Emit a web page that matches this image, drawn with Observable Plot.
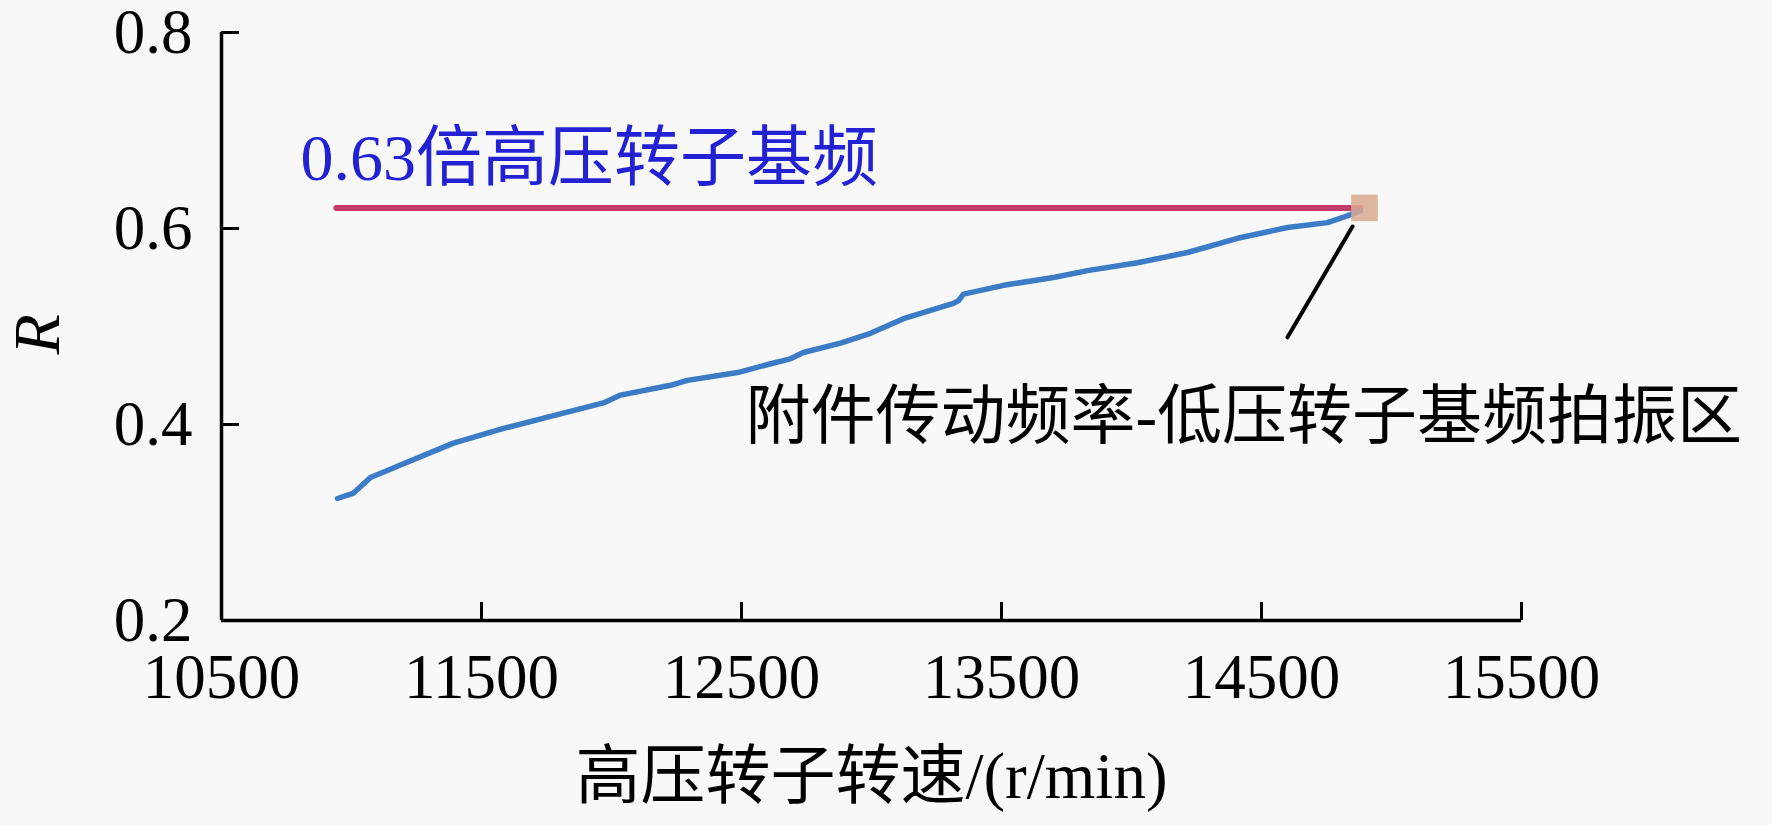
<!DOCTYPE html>
<html>
<head>
<meta charset="utf-8">
<script src="https://cdn.jsdelivr.net/npm/d3@7"></script>
<script src="https://cdn.jsdelivr.net/npm/@observablehq/plot@0.6"></script>
<style>
  html, body { margin: 0; padding: 0; background: #f8f8f8; }
  #chart svg { display: block; }
</style>
</head>
<body>
<div id="chart"></div>
<script>
// Curve: high-pressure rotor speed (r/min) vs R
const speed = [10946, 11008, 11073, 11200, 11392, 11585, 11777, 11969, 12035, 12227, 12292, 12485, 12612, 12688, 12738, 12881, 12996, 13123, 13315, 13335, 13354, 13508, 13700, 13831, 14023, 14215, 14408, 14600, 14754, 14831, 14881];
const ratio = [0.3245, 0.330, 0.346, 0.360, 0.381, 0.396, 0.409, 0.422, 0.430, 0.440, 0.445, 0.453, 0.462, 0.467, 0.4735, 0.483, 0.493, 0.508, 0.5235, 0.5265, 0.533, 0.542, 0.550, 0.557, 0.565, 0.5755, 0.590, 0.601, 0.606, 0.613, 0.618];

// Reference line (0.63x HP rotor fundamental)
const refLineX = [10942, 14880];
const refLineY = 0.621;

// Beat zone marker
const markerX = [14896];
const markerY = [0.621];

// Leader line
const leaderX = [14850, 14600];
const leaderY = [0.602, 0.489];

// Ticks
const xTicks = [10500, 11500, 12500, 13500, 14500, 15500];
const yTicks = [0.2, 0.4, 0.6, 0.8];

// Texts
const refLabel = "0.63倍高压转子基频";
const zoneLabel = "附件传动频率-低压转子基频拍振区";
const xLabel = "高压转子转速/(r/min)";
const yLabel = "R";

const curve = speed.map((s, i) => ({s, r: ratio[i]}));
const font = "'Liberation Serif', 'Times New Roman', 'Noto Sans CJK SC', serif";

const chart = Plot.plot({
  width: 1772,
  height: 825,
  marginLeft: 221,
  marginRight: 251,
  marginTop: 32,
  marginBottom: 205,
  style: {background: "#f8f8f8", fontFamily: font, color: "#000"},
  x: {domain: [10500, 15500]},
  y: {domain: [0.2, 0.8]},
  marks: [
    Plot.axisX({ticks: xTicks, tickSize: -18, tickPadding: 51, strokeWidth: 3, fontSize: 63, label: null, tickFormat: d => String(d)}),
    Plot.axisY({ticks: yTicks, tickSize: -18, tickPadding: 47, strokeWidth: 3, fontSize: 63, label: null, tickFormat: d => d.toFixed(1)}),
    Plot.ruleY([0.2], {x1: 10500, x2: 15500, stroke: "#000", strokeWidth: 3.5}),
    Plot.ruleX([10500], {y1: 0.2, y2: 0.8, stroke: "#000", strokeWidth: 3.5}),
    Plot.line(refLineX.map(x => ({x, y: refLineY})), {x: "x", y: "y", stroke: "#c23b6b", strokeWidth: 6}),
    Plot.line(curve, {x: "s", y: "r", stroke: "#3c7cc6", strokeWidth: 5.5, curve: "linear"}),
    Plot.dot(markerX.map((x, i) => ({x, y: markerY[i]})), {x: "x", y: "y", symbol: "square", r: 15, fill: "#d9a98f", fillOpacity: 0.85, stroke: "none"}),
    Plot.line(leaderX.map((x, i) => ({x, y: leaderY[i]})), {x: "x", y: "y", stroke: "#000", strokeWidth: 4}),
    Plot.text([refLabel], {x: 10804, y: 0.671, text: d => d, textAnchor: "start", fontSize: 66, fill: "#2222d4"}),
    Plot.text([zoneLabel], {x: 12515, y: 0.407, text: d => d, textAnchor: "start", fontSize: 65, fill: "#000"}),
    Plot.text([xLabel], {frameAnchor: "bottom", dy: 177, text: d => d, fontSize: 65, fill: "#000"}),
    Plot.text([yLabel], {frameAnchor: "left", dx: -184, dy: 28, rotate: -90, text: d => d, fontSize: 66, fontStyle: "italic", fill: "#000"})
  ]
});
document.getElementById("chart").appendChild(chart);
</script>
</body>
</html>
